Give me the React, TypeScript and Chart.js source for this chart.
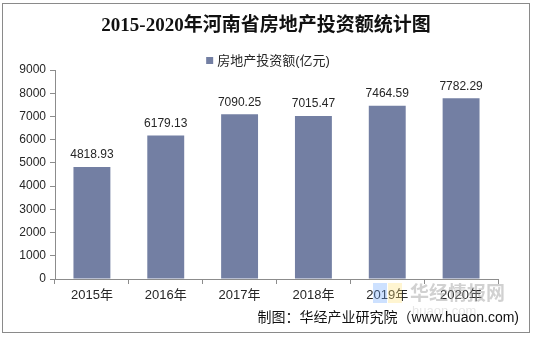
import React, { useEffect, useRef } from "react";
import { Chart, registerables } from "chart.js";

Chart.register(...registerables);

const title = "2015-2020年河南省房地产投资额统计图";
const seriesName = "房地产投资额(亿元)";
const categories = ["2015年", "2016年", "2017年", "2018年", "2019年", "2020年"];
const values = [4818.93, 6179.13, 7090.25, 7015.47, 7464.59, 7782.29];
const yTicks = [0, 1000, 2000, 3000, 4000, 5000, 6000, 7000, 8000, 9000];
const footer = "制图：华经产业研究院（www.huaon.com)";
const watermark = "华经情报网";
const watermarkSub = "huaon.com";

const BAR = "#737fa3";
const TEXT = "#262626";
const AXIS = "#8c8c8c";
const FONT = "Arial, 'Liberation Sans', 'Noto Sans CJK SC', sans-serif";

const decorPlugin = {
  id: "decor",
  beforeDraw(chart: any) {
    const ctx = chart.ctx;
    ctx.save();
    ctx.fillStyle = "#ffffff";
    ctx.fillRect(0, 0, chart.width, chart.height);
    ctx.strokeStyle = "#8a8a8a";
    ctx.lineWidth = 1;
    ctx.strokeRect(2.5, 3.5, 527, 329);
    // title
    ctx.fillStyle = "#111";
    ctx.font = "bold 19px 'Liberation Serif', 'Times New Roman', 'Noto Sans CJK SC', serif";
    ctx.textAlign = "center";
    ctx.textBaseline = "middle";
    ctx.fillText(title, 266, 26);
    // legend
    ctx.font = "13px " + FONT;
    const tw = ctx.measureText(seriesName).width;
    const total = 8 + 3 + tw;
    const lx = 268 - total / 2;
    ctx.fillStyle = BAR;
    ctx.fillRect(lx, 57, 7, 7);
    ctx.fillStyle = TEXT;
    ctx.textAlign = "left";
    ctx.fillText(seriesName, lx + 11, 61);
    ctx.restore();
  },
  afterDraw(chart: any) {
    const ctx = chart.ctx;
    const meta = chart.getDatasetMeta(0);
    ctx.save();
    ctx.font = "12px " + FONT;
    ctx.fillStyle = TEXT;
    ctx.textAlign = "center";
    ctx.textBaseline = "bottom";
    meta.data.forEach((bar: any, i: number) => {
      ctx.fillText(values[i].toFixed(2), bar.x, bar.y - 6);
    });
    // watermark
    ctx.globalAlpha = 0.35;
    ctx.fillStyle = "#6fa8ff";
    ctx.fillRect(373, 283, 14, 20);
    ctx.fillStyle = "#ffe27a";
    ctx.fillRect(388, 283, 14, 20);
    ctx.globalAlpha = 0.45;
    ctx.fillStyle = "#9a9a9a";
    ctx.font = "bold 19px 'Noto Sans CJK SC', sans-serif";
    ctx.textAlign = "left";
    ctx.textBaseline = "middle";
    ctx.fillText(watermark, 410, 293);
    ctx.globalAlpha = 0.25;
    ctx.font = "13px " + FONT;
    ctx.fillText(watermarkSub, 412, 311);
    ctx.globalAlpha = 1;
    // footer
    ctx.fillStyle = "#111";
    ctx.font = "14px " + FONT;
    ctx.textAlign = "right";
    ctx.textBaseline = "middle";
    ctx.fillText(footer, 519, 318);
    ctx.restore();
  },
};

export default function App() {
  const ref = useRef<HTMLCanvasElement>(null);
  useEffect(() => {
    if (!ref.current) return;
    const chart = new Chart(ref.current, {
      type: "bar",
      data: {
        labels: categories,
        datasets: [
          {
            label: seriesName,
            data: values,
            backgroundColor: BAR,
            barPercentage: 0.5,
            categoryPercentage: 1,
          },
        ],
      },
      options: {
        animation: false,
        responsive: false,
        maintainAspectRatio: false,
        layout: { padding: { top: 70, right: 37, left: 0, bottom: 0 } },
        plugins: {
          legend: { display: false },
          title: { display: false },
          tooltip: { enabled: false },
        },
        scales: {
          x: {
            afterFit: (s: any) => {
              s.height = 59;
            },
            grid: {
              offset: true,
              drawOnChartArea: false,
              drawTicks: true,
              tickLength: 5,
              color: AXIS,
            },
            border: { color: AXIS },
            ticks: { color: TEXT, font: { size: 13, family: FONT }, padding: 4 },
          },
          y: {
            min: 0,
            max: 9000,
            afterFit: (s: any) => {
              s.width = 55;
            },
            afterBuildTicks: (s: any) => {
              s.ticks = yTicks.map((v) => ({ value: v }));
            },
            grid: {
              drawOnChartArea: false,
              drawTicks: true,
              tickLength: 5,
              color: AXIS,
            },
            border: { color: AXIS },
            ticks: {
              color: TEXT,
              font: { size: 12, family: FONT },
              padding: 4,
              callback: (v: any) => String(v),
            },
          },
        },
      },
      plugins: [decorPlugin],
    });
    return () => chart.destroy();
  }, []);
  return (
    <div style={{ position: "fixed", left: 0, top: 0, width: 535, height: 338 }}>
      <canvas ref={ref} width={535} height={338} style={{ width: 535, height: 338, display: "block" }} />
    </div>
  );
}
